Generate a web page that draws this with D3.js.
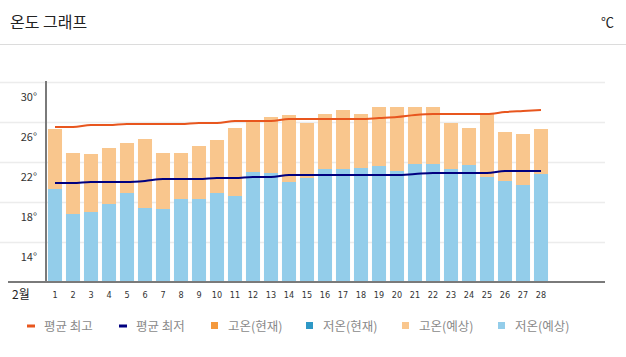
<!DOCTYPE html>
<html><head><meta charset="utf-8">
<script src="https://cdn.jsdelivr.net/npm/d3@7/dist/d3.min.js"></script>
<style>
html,body{margin:0;padding:0;background:#fff;}
svg{display:block;font-family:"Noto Sans CJK KR","Noto Sans",sans-serif;}
</style></head>
<body><svg id="c" width="626" height="357"></svg>
<script>
const title = "온도 그래프";
const unit = "℃";
const monthLabel = "2월";
const days = ["1","2","3","4","5","6","7","8","9","10","11","12","13","14","15","16","17","18","19","20","21","22","23","24","25","26","27","28"];
const highForecast = [25.3,22.9,22.8,23.4,23.9,24.3,22.9,22.9,23.6,24.2,25.4,26.1,26.5,26.7,25.9,26.8,27.2,26.8,27.5,27.5,27.5,27.5,25.9,25.4,26.8,25.0,24.8,25.3];
const lowForecast  = [19.3,16.8,17.0,17.8,18.9,17.4,17.3,18.3,18.3,18.9,18.6,21.0,20.9,20.0,20.4,21.3,21.3,21.4,21.6,21.1,21.8,21.8,21.3,21.7,20.5,20.1,19.7,20.8];
const avgHigh = [25.5,25.5,25.7,25.7,25.8,25.8,25.8,25.8,25.9,25.9,26.1,26.1,26.1,26.3,26.3,26.3,26.3,26.3,26.4,26.5,26.7,26.8,26.8,26.8,26.8,27.0,27.1,27.2];
const avgLow  = [19.9,19.9,20.0,20.0,20.0,20.1,20.3,20.3,20.3,20.4,20.4,20.5,20.5,20.7,20.7,20.7,20.7,20.7,20.7,20.7,20.8,20.9,20.9,20.9,20.9,21.1,21.1,21.1];
const yTicks = [14,18,22,26,30];
const legendLabels = ["평균 최고","평균 최저","고온(현재)","저온(현재)","고온(예상)","저온(예상)"];
const legendColors = ["#E8561E","#000080","#F4993D","#2E98C6","#F9C68D","#93CDEA"];
const legendTypes = ["line","line","rect","rect","rect","rect"];

const svg = d3.select("#c");
// header
svg.append("text").attr("x",10).attr("y",28).attr("font-size",16).attr("fill","#222").text(title);
svg.append("text").attr("x",614).attr("y",27).attr("text-anchor","end").attr("font-size",13).attr("fill","#222").text(unit);
svg.append("line").attr("x1",0).attr("x2",626).attr("y1",44.5).attr("y2",44.5).attr("stroke","#dcdcdc");

const x = d3.scaleBand().domain(days).range([46,550]).paddingInner(0.22).paddingOuter(0.11);
const y = d3.scaleLinear().domain([10,30]).range([282,82]);

// gridlines
svg.append("g").selectAll("line").data(yTicks).join("line")
  .attr("x1",0).attr("x2",605).attr("y1",d=>y(d)+0.5).attr("y2",d=>y(d)+0.5)
  .attr("stroke","#ececec").attr("stroke-width",1.5);
svg.append("g").selectAll("text").data(yTicks).join("text")
  .attr("x",37).attr("y",d=>y(d)+19).attr("text-anchor","end")
  .attr("font-size",11).attr("fill","#333").text(d=>d+"°");

// bars
svg.append("g").selectAll("rect").data(highForecast).join("rect")
  .attr("x",(d,i)=>x(days[i])).attr("width",x.bandwidth())
  .attr("y",d=>y(d)).attr("height",d=>y(10)-y(d)).attr("fill","#F9C68D");
svg.append("g").selectAll("rect").data(lowForecast).join("rect")
  .attr("x",(d,i)=>x(days[i])).attr("width",x.bandwidth())
  .attr("y",d=>y(d)).attr("height",d=>y(10)-y(d)).attr("fill","#93CDEA");

// lines
const cx = i => x(days[i]) + x.bandwidth()/2;
const line = d3.line().x((d,i)=>cx(i)).y(d=>y(d)).curve(d3.curveMonotoneX);
svg.append("path").attr("d",line(avgHigh)).attr("fill","none").attr("stroke","#E8561E").attr("stroke-width",2);
svg.append("path").attr("d",line(avgLow)).attr("fill","none").attr("stroke","#000080").attr("stroke-width",2);

// axes
svg.append("line").attr("x1",46).attr("x2",46).attr("y1",81).attr("y2",282).attr("stroke","#7a7a7a").attr("stroke-width",2);
svg.append("line").attr("x1",8).attr("x2",605).attr("y1",282).attr("y2",282).attr("stroke","#7a7a7a").attr("stroke-width",2);

svg.append("g").selectAll("text").data(days).join("text")
  .attr("x",d=>x(d)+x.bandwidth()/2).attr("y",298).attr("text-anchor","middle")
  .attr("font-size",9).attr("fill","#333").attr("font-family","'Liberation Sans Narrow','DejaVu Sans Condensed',sans-serif").text(d=>d);
svg.append("text").attr("x",12).attr("y",299).attr("font-size",12).attr("fill","#222").text(monthLabel);

// legend (marker x positions laid out as in the reference)
const legendX = d3.scalePoint().domain(legendLabels).range([27,498]);
const lg = svg.append("g");
legendLabels.forEach((lab,i)=>{
  const lx = [27,119,211,306,402,498][i];
  if(legendTypes[i]==="line") lg.append("rect").attr("x",lx).attr("y",324.5).attr("width",8).attr("height",3).attr("fill",legendColors[i]);
  else lg.append("rect").attr("x",lx).attr("y",322).attr("width",7).attr("height",7).attr("fill",legendColors[i]);
  lg.append("text").attr("x",lx+17).attr("y",330.5).attr("font-size",12.5).attr("fill","#8a8a8a").text(lab);
});
</script></body></html>
